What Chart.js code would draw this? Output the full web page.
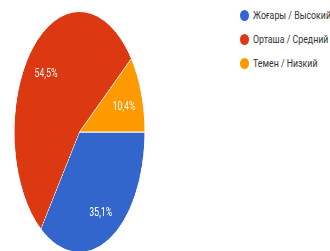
<!DOCTYPE html>
<html>
<head>
<meta charset="utf-8">
<script src="https://cdn.jsdelivr.net/npm/chart.js@4/dist/chart.umd.min.js"></script>
<style>
    html, body { margin: 0; padding: 0; background: #fff; overflow: hidden; }
    body { width: 330px; height: 251px; position: relative; }
    #pie { position: absolute; left: 14px; top: 11px; }
    #legend { position: absolute; left: 239px; top: 9px; font-family: Roboto, "Noto Sans", sans-serif; font-size: 11px; color: #333; }
    .item { position: relative; height: 24px; white-space: nowrap; }
    .dot { position: absolute; left: 1px; top: 1px; width: 9px; height: 11px; border-radius: 50%; }
    .txt { position: absolute; left: 14px; top: 0; transform: scaleX(0.8); transform-origin: left top; }
</style>
</head>
<body>
<!-- pie is drawn round, then squeezed sideways like the original screenshot -->
<canvas id="pie" width="242" height="242" style="width:131px;height:242px"></canvas>
<div id="legend"></div>

<script>
// chart data
const labels = ["Жоғары / Высокий", "Орташа / Средний", "Темен / Низкий"];
const values = [35.1, 54.5, 10.4];
const colors = ["#3366cc", "#dc3912", "#ff9900"];

// ✅ Percent labels inside the slices (stretched back a bit sideways)
const sliceLabels = {
    id: "sliceLabels",
    afterDatasetsDraw(chart) {
        const ctx = chart.ctx;
        const meta = chart.getDatasetMeta(0);
        meta.data.forEach((arc, i) => {
            const mid = (arc.startAngle + arc.endAngle) / 2;
            const r = arc.outerRadius * 0.72;
            const x = arc.x + Math.cos(mid) * r;
            const y = arc.y + Math.sin(mid) * r + 3;
            ctx.save();
            ctx.translate(x, y);
            ctx.scale(1.3, 1);
            ctx.fillStyle = "#fff";
            ctx.font = "12.5px Roboto, sans-serif";
            ctx.textAlign = "center";
            ctx.textBaseline = "middle";
            ctx.fillText(values[i].toFixed(1).replace(".", ",") + "%", 0, 0);
            ctx.restore();
        });
    }
};

new Chart(document.getElementById("pie"), {
    type: "pie",
    data: {
        labels: labels,
        datasets: [{
            data: values,
            backgroundColor: colors,
            borderColor: "#fff",
            borderWidth: 1
        }]
    },
    options: {
        responsive: false,
        animation: false,
        rotation: 90,
        layout: { padding: 0 },
        plugins: {
            legend: { display: false },
            tooltip: { enabled: false }
        }
    },
    plugins: [sliceLabels]
});

// ✅ Legend on the right
document.getElementById("legend").innerHTML = labels
    .map((l, i) => `
        <div class="item">
            <span class="dot" style="background:${colors[i]}"></span>
            <span class="txt">${l}</span>
        </div>
    `).join("");
</script>
</body>
</html>
